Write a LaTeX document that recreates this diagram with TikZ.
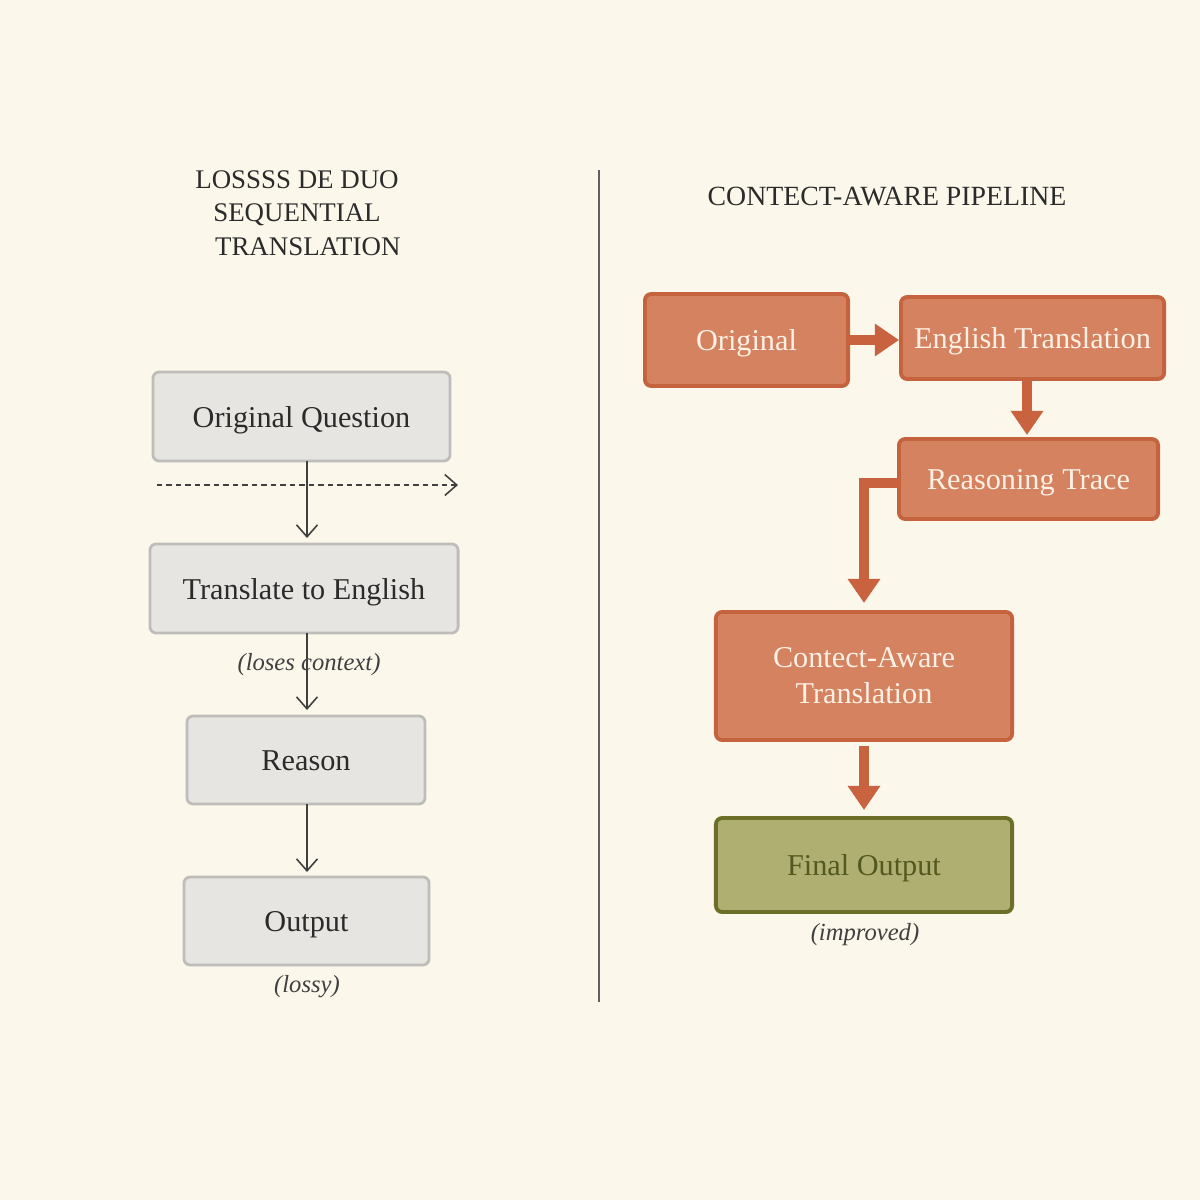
\documentclass[tikz,border=0pt]{standalone}
\usepackage{fontspec}
\setmainfont{Liberation Serif}
\usetikzlibrary{arrows.meta}
\definecolor{bg}{HTML}{FBF7EB}
\definecolor{graybox}{HTML}{E7E5E1}
\definecolor{grayline}{HTML}{BEBDBA}
\definecolor{ink}{HTML}{2B2B2B}
\definecolor{orfill}{HTML}{D4825F}
\definecolor{orline}{HTML}{C6633F}
\definecolor{orarrow}{HTML}{C9633F}
\definecolor{ortext}{HTML}{FDF1E6}
\definecolor{olfill}{HTML}{B0AF72}
\definecolor{olline}{HTML}{6B6F28}
\definecolor{oltext}{HTML}{53581E}
\tikzset{
  graystep/.style={draw=grayline, fill=graybox, line width=0.8pt, rounded corners=1.8pt,
    text=ink, font=\fontsize{8.6}{10}\selectfont, inner sep=0pt, text height=1.55ex, text depth=0.2ex},
  orstep/.style={draw=orline, fill=orfill, line width=1.1pt, rounded corners=1.8pt,
    text=ortext, font=\fontsize{8.6}{10.2}\selectfont, inner sep=0pt, align=center},
  orone/.style={orstep, text height=1.55ex, text depth=0.2ex},
  olstep/.style={draw=olline, fill=olfill, line width=1.1pt, rounded corners=1.8pt,
    text=oltext, font=\fontsize{8.6}{10}\selectfont, inner sep=0pt, text height=1.55ex, text depth=0.2ex},
  thinarrow/.style={draw=ink!90, line width=0.45pt, -{Straight Barb[length=0.12cm,width=0.21cm]}},
  thickarrow/.style={draw=orarrow, line width=3.1pt, line join=miter,
    -{Triangle[length=0.24cm,width=0.31cm]}},
  ttl/.style={text=ink, font=\fontsize{7.65}{9.6}\selectfont},
  note/.style={text=ink!90, font=\fontsize{7}{8}\selectfont\itshape},
}
\begin{document}
\begin{tikzpicture}[x=0.01cm,y=-0.01cm]
\fill[bg] (0,0) rectangle (1200,1200);
\useasboundingbox (0,0) rectangle (1200,1200);

% titles
\node[ttl, align=center] (lt) at (297,213) {LOSSSS DE DUO\\SEQUENTIAL\\\hspace*{0.8em}TRANSLATION};
\node[ttl, font=\fontsize{7.9}{9.6}\selectfont] (rtt) at (887,197) {CONTECT-AWARE PIPELINE};

% divider
\coordinate (d1) at (599,170);
\coordinate (d2) at (599,1002);
\draw[ink!75, line width=0.6pt] (d1) -- (d2);

% left column
\node[graystep, minimum width=2.97cm, minimum height=0.89cm] (oq) at (301.5,416.5) {Original Question};
\node[graystep, minimum width=3.08cm, minimum height=0.89cm] (te) at (304,588.5) {Translate to English};
\node[graystep, minimum width=2.38cm, minimum height=0.88cm] (re) at (306,760) {Reason};
\node[graystep, minimum width=2.45cm, minimum height=0.88cm] (ou) at (306.5,921) {Output};

\coordinate (a1s) at (307,461);
\coordinate (a1e) at (307,538);
\draw[thinarrow] (a1s) -- (a1e);
\coordinate (ds) at (157,485);
\coordinate (de) at (458,485);
\draw[thinarrow, dash pattern=on 1.5pt off 1.2pt] (ds) -- (de);

\coordinate (a2s) at (307,633);
\coordinate (a2e) at (307,710);
\node[note] (lc) at (309,665) {(loses context)};
\draw[thinarrow] (a2s) -- (a2e);

\coordinate (a3s) at (307,804);
\coordinate (a3e) at (307,872);
\draw[thinarrow] (a3s) -- (a3e);

\node[note] (ly) at (307,987) {(lossy)};

% right column
\node[orone, minimum width=2.03cm, minimum height=0.92cm] (or) at (746.5,340) {Original};
\node[orone, minimum width=2.63cm, minimum height=0.82cm] (et) at (1032.5,338) {English Translation};
\node[orone, minimum width=2.59cm, minimum height=0.80cm] (rt) at (1028.5,479) {Reasoning Trace};
\node[orstep, minimum width=2.96cm, minimum height=1.28cm] (ca) at (864,676) {Contect-Aware\\Translation};
\node[olstep, minimum width=2.96cm, minimum height=0.94cm] (fo) at (864,865) {Final Output};
\node[note] (im) at (865,935) {(improved)};

\coordinate (b1s) at (848,340);
\coordinate (b1e) at (899,340);
\draw[thickarrow] (b1s) -- (b1e);

\coordinate (b2s) at (1027,380);
\coordinate (b2e) at (1027,435);
\draw[thickarrow] (b2s) -- (b2e);

\coordinate (b3s) at (900,483);
\coordinate (b3e) at (864,603);
\draw[thickarrow] (b3s) -| (b3e);

\coordinate (b4s) at (864,746);
\coordinate (b4e) at (864,810);
\draw[thickarrow] (b4s) -- (b4e);
\end{tikzpicture}
\end{document}
